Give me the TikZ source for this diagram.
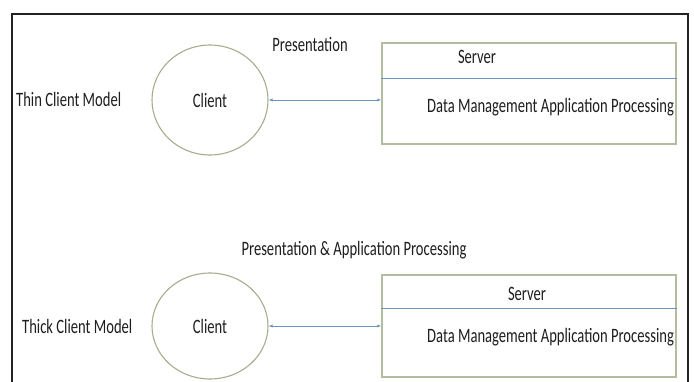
\documentclass[tikz,border=0pt]{standalone}
\usepackage{fontspec}
\usepackage{graphicx}
\setmainfont{Carlito}
\usetikzlibrary{shapes.geometric,arrows.meta,calc}
\definecolor{framec}{HTML}{222222}
\definecolor{boxc}{HTML}{B3BC9E}
\definecolor{ellc}{HTML}{A7AE8E}
\definecolor{linkc}{HTML}{6A93C0}
\definecolor{txtc}{HTML}{1E1E1E}
\newcommand{\tallt}[1]{\scalebox{1}[1.4]{#1}}
\tikzset{
  lbl/.style={text=txtc, font=\fontsize{14.6}{16}\selectfont, inner sep=0pt},
  clientell/.style={ellipse, draw=ellc, line width=1.1pt, minimum width=116pt, minimum height=110pt, inner sep=0pt, text=txtc, font=\fontsize{14.6}{16}\selectfont},
  serverbox/.style={rectangle, draw=boxc, line width=1.2pt, minimum width=294pt, minimum height=101pt, inner sep=0pt},
  divider/.style={draw=linkc, line width=0.9pt},
  link/.style={draw=linkc, line width=1pt, {Latex[length=4pt,width=3pt]}-{Latex[length=4pt,width=3pt]}},
  outer/.style={draw=framec, line width=2.4pt}
}
\begin{document}
\begin{tikzpicture}[x=1pt,y=-1pt]
\useasboundingbox (0,0) rectangle (694,381);
\fill[white] (0,0) rectangle (694,381);
\draw[outer] (12,382) -- (12,14) -- (688,14) -- (688,382);

% Thin client model
\node[lbl, anchor=west] (thin) at (16,99) {\tallt{Thin Client Model}};
\node[clientell] (c1) at (210,100) {\tallt{Client}};
\node[lbl] (p1) at (310,45) {\tallt{Presentation}};
\node[serverbox] (s1) at (529,93.5) {};
\coordinate (d1l) at ($(s1.north west)!0.356!(s1.south west)$);
\coordinate (d1r) at ($(s1.north east)!0.356!(s1.south east)$);
\draw[divider] (d1l) -- (d1r);
\node[lbl] (sv1) at (477,57) {\tallt{Server}};
\node[lbl, anchor=west] (dm1) at (427,107) {\tallt{Data Management Application Processing}};
\draw[link] (c1.east) -- (c1.east -| s1.west);

% Thick client model
\node[lbl, anchor=west] (thick) at (22,326) {\tallt{Thick Client Model}};
\node[clientell, minimum height=106pt] (c2) at (210,326) {\tallt{Client}};
\node[lbl] (p2) at (354,250) {\tallt{Presentation \& Application Processing}};
\node[serverbox, minimum height=102pt] (s2) at (529,326) {};
\coordinate (d2l) at ($(s2.north west)!0.333!(s2.south west)$);
\coordinate (d2r) at ($(s2.north east)!0.333!(s2.south east)$);
\draw[divider] (d2l) -- (d2r);
\node[lbl] (sv2) at (527,294) {\tallt{Server}};
\node[lbl, anchor=west] (dm2) at (427,337) {\tallt{Data Management Application Processing}};
\draw[link] (c2.east) -- (c2.east -| s2.west);
\end{tikzpicture}
\end{document}
